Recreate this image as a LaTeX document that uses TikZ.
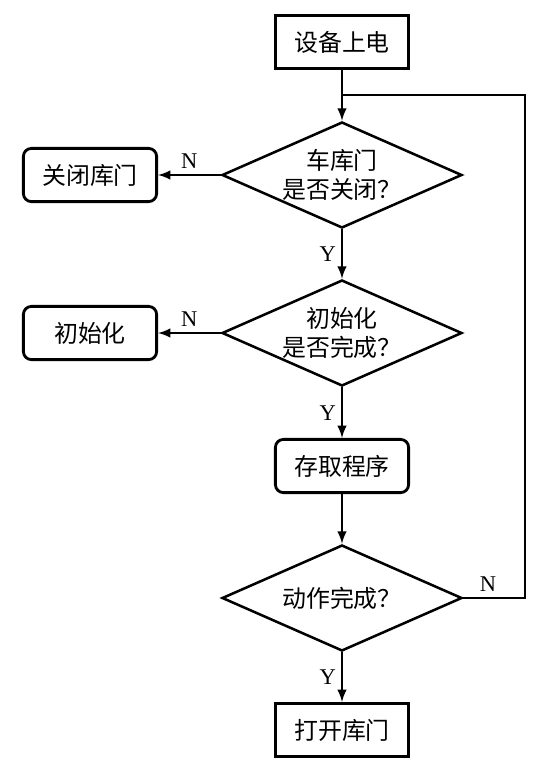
\documentclass[tikz,border=0pt]{standalone}
\usepackage{fontspec}
\setmainfont{Liberation Serif}
\newfontfamily\cjk{Noto Sans CJK SC}
\usetikzlibrary{arrows,shapes,calc}

\begin{document}
\begin{tikzpicture}[node distance = 3.325cm, line width=2pt, >=latex,
    box/.style={rectangle, draw=black, minimum width=3.33cm, minimum height=1.33cm, font=\cjk\fontsize{17}{21}\selectfont},
    rbox/.style={box, rounded corners=0.2cm},
    choice/.style={diamond, draw=black, line width=1.8pt, aspect=2.26, inner sep=0pt, minimum width=6cm, minimum height=2.65cm, align=center, font=\cjk\fontsize{17}{21}\selectfont},
    lbl/.style={font=\fontsize{16}{16}\selectfont}]
  \useasboundingbox (0,0) rectangle (13.9,-19.425);

  \node[box] at (8.55,-1.05) (power) {设备上电};
  \node[choice, below of=power] (door) {车库门\\是否关闭？};
  \node[rbox, left of=door, node distance=6.3cm] (close) {关闭库门};
  \node[choice, below of=door, node distance=3.95cm] (init) {初始化\\是否完成？};
  \node[rbox, left of=init, node distance=6.3cm] (initbox) {初始化};
  \node[rbox, below of=init] (store) {存取程序};
  \node[choice, below of=store, node distance=3.3cm] (done) {动作完成？};
  \node[box, below of=done, node distance=3.3cm] (open) {打开库门};

  % loop back corner points
  \coordinate[below of=power, node distance=1.325cm] (join);
  \coordinate[right of=done, node distance=4.575cm] (turn);

  \draw[->] (power) -- (door);
  \draw[->] (door) -- node[lbl, above] {N} (close);
  \draw[->] (door) -- node[lbl, left] {Y} (init);
  \draw[->] (init) -- node[lbl, above] {N} (initbox);
  \draw[->] (init) -- node[lbl, left] {Y} (store);
  \draw[->] (store) -- (done);
  \draw[->] (done) -- node[lbl, left] {Y} (open);
  \draw (done.east) -- node[lbl, above, pos=0.4] {N} (turn) |- (join);

\end{tikzpicture}
\end{document}
